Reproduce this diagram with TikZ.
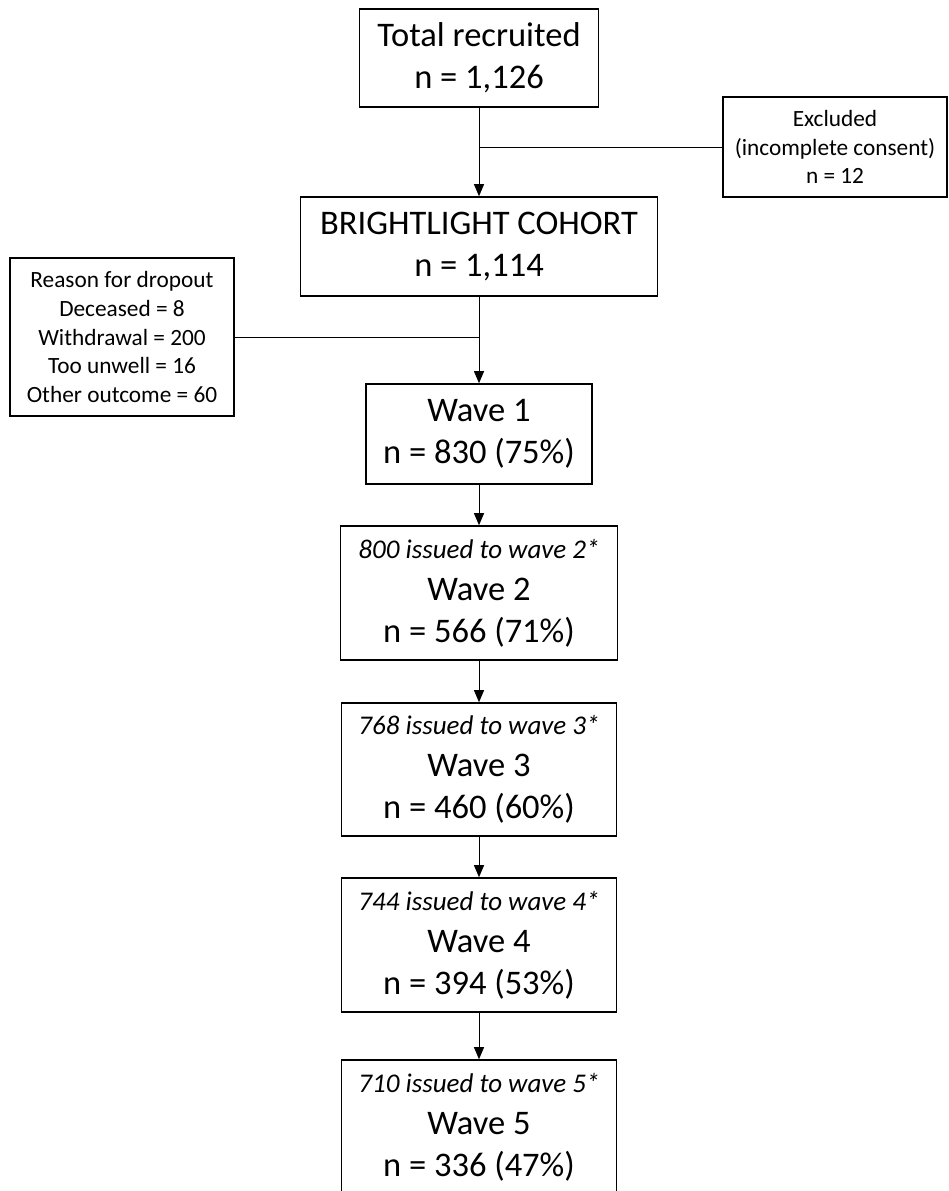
\documentclass[tikz,border=0pt]{standalone}
\usepackage{fontspec}
\setmainfont{Carlito}
\usetikzlibrary{arrows.meta}
\begin{document}
\begin{tikzpicture}[x=1pt,y=-1pt,
  box/.style={draw, line width=1.6pt, inner sep=0pt, align=center, font=\fontsize{34.5}{42}\selectfont},
  smallbox/.style={draw, line width=1.6pt, inner sep=0pt, align=center, font=\fontsize{23.3}{28.7}\selectfont},
  conn/.style={line width=0.9pt},
  arr/.style={conn, -{Triangle[width=10pt,length=12pt]}}
]
\newcommand{\iss}[1]{{\fontsize{27}{42}\selectfont\itshape #1}}
\useasboundingbox (0,0) rectangle (948,1191);
\clip (0,0) rectangle (948,1191);
\node[box, minimum width=239pt, minimum height=98pt] (top) at (479,58) {Total recruited\\n = 1,126};
\node[smallbox, minimum width=224pt, minimum height=100pt] (excl) at (835,147) {Excluded\\(incomplete consent)\\n = 12};
\node[box, minimum width=357pt, minimum height=99pt] (bright) at (479,246.5) {BRIGHTLIGHT COHORT\\n = 1,114};
\node[smallbox, minimum width=224pt, minimum height=158pt] (reason) at (122,337) {Reason for dropout\\Deceased = 8\\Withdrawal = 200\\Too unwell = 16\\Other outcome = 60};
\node[box, minimum width=226pt, minimum height=100pt] (w1) at (479,434) {Wave 1\\n = 830 (75\%)};
\node[box, minimum width=277pt, minimum height=134pt] (w2) at (479,593) {\iss{800 issued to wave 2*}\\Wave 2\\n = 566 (71\%)};
\node[box, minimum width=275pt, minimum height=133pt] (w3) at (479,769.5) {\iss{768 issued to wave 3*}\\Wave 3\\n = 460 (60\%)};
\node[box, minimum width=275pt, minimum height=134pt] (w4) at (479,945) {\iss{744 issued to wave 4*}\\Wave 4\\n = 394 (53\%)};
\node[box, minimum width=275pt, minimum height=134pt] (w5) at (479,1127) {\iss{710 issued to wave 5*}\\Wave 5\\n = 336 (47\%)};
\coordinate (j1) at (top.south |- excl.west);
\coordinate (j2) at (bright.south |- reason.east);
\draw[arr] (top.south) -- (bright.north);
\draw[conn] (excl.west) -- (j1);
\draw[arr] (bright.south) -- (w1.north);
\draw[conn] (reason.east) -- (j2);
\draw[arr] (w1.south) -- (w2.north);
\draw[arr] (w2.south) -- (w3.north);
\draw[arr] (w3.south) -- (w4.north);
\draw[arr] (w4.south) -- (w5.north);
\end{tikzpicture}
\end{document}
